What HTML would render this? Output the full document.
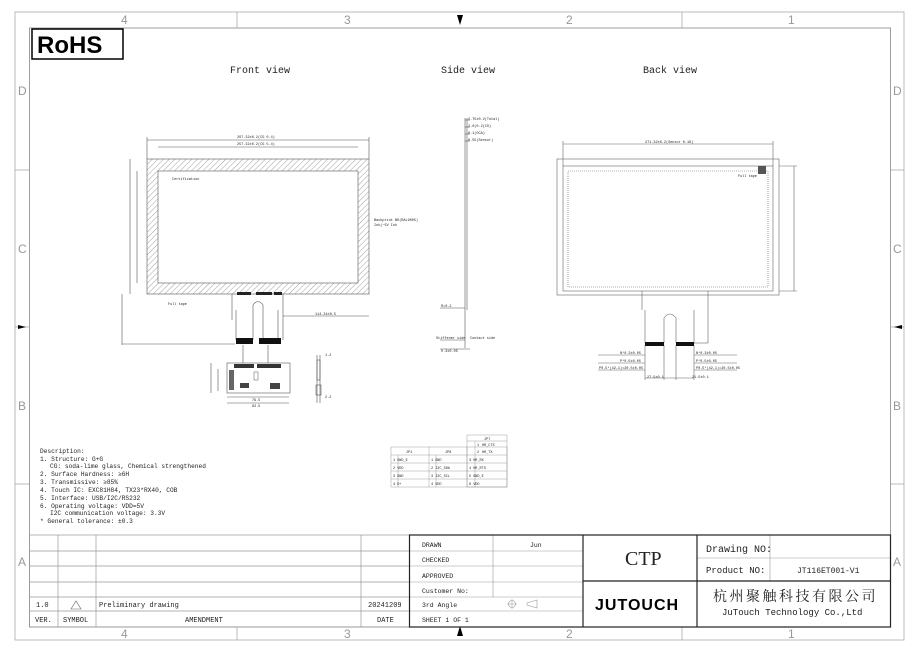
<!DOCTYPE html>
<html><head><meta charset="utf-8"><style>
html,body{margin:0;padding:0;background:#fff}
svg{display:block}
text{font-family:"Liberation Mono","Noto Sans CJK SC",monospace;fill:#222}
text.g{fill:#999;font-family:"Liberation Sans",sans-serif}
</style></head><body>
<svg width="920" height="650" viewBox="0 0 920 650" xmlns="http://www.w3.org/2000/svg">
<defs>
<pattern id="h" width="4" height="4" patternUnits="userSpaceOnUse" patternTransform="rotate(45)">
<line x1="0" y1="0" x2="0" y2="4" stroke="#888" stroke-width="0.8"/></pattern>
</defs>
<g fill="none" stroke="#aaa" stroke-width="0.8">
<rect x="15" y="12" width="889" height="628"/>
<rect x="29.5" y="28" width="861" height="599" stroke="#888"/>
<line x1="237" y1="12" x2="237" y2="28"/><line x1="682" y1="12" x2="682" y2="28"/>
<line x1="237" y1="627" x2="237" y2="640"/><line x1="682" y1="627" x2="682" y2="640"/>
<line x1="15" y1="170" x2="29" y2="170"/><line x1="15" y1="327" x2="29" y2="327"/><line x1="15" y1="484" x2="29" y2="484"/>
<line x1="891" y1="170" x2="904" y2="170"/><line x1="891" y1="327" x2="904" y2="327"/><line x1="891" y1="484" x2="904" y2="484"/>
</g>
<g font-size="12">
<text class="g" x="121" y="24">4</text><text class="g" x="344" y="24">3</text><text class="g" x="566" y="24">2</text><text class="g" x="788" y="24">1</text>
<text class="g" x="121" y="638">4</text><text class="g" x="344" y="638">3</text><text class="g" x="566" y="638">2</text><text class="g" x="788" y="638">1</text>
<text class="g" x="18" y="95">D</text><text class="g" x="18" y="253">C</text><text class="g" x="18" y="410">B</text><text class="g" x="18" y="566">A</text>
<text class="g" x="893" y="95">D</text><text class="g" x="893" y="253">C</text><text class="g" x="893" y="410">B</text><text class="g" x="893" y="566">A</text>
</g>
<polygon points="457,15 463,15 460,25" fill="#000"/>
<polygon points="457,636 463,636 460,626" fill="#000"/>
<polygon points="18,325 26,327 18,329" fill="#000"/>
<polygon points="902,325 894,327 902,329" fill="#000"/>
<!-- RoHS -->
<rect x="32" y="29" width="91" height="30" fill="#fff" stroke="#000" stroke-width="1.5"/>
<text x="37" y="53" font-size="24" font-weight="bold" style="font-family:'Liberation Sans',sans-serif;fill:#000">RoHS</text>
<text x="230" y="73" font-size="10">Front view</text>
<text x="441" y="73" font-size="10">Side view</text>
<text x="643" y="73" font-size="10">Back view</text>
<!-- front view -->
<g fill="none" stroke="#555" stroke-width="0.6">
<rect x="147" y="159" width="222" height="135" fill="url(#h)"/>
<rect x="158" y="171" width="200" height="112" fill="#fff"/>
<line x1="147" y1="140" x2="369" y2="140"/><line x1="158" y1="147" x2="358" y2="147"/>
<line x1="147" y1="137" x2="147" y2="159"/><line x1="369" y1="137" x2="369" y2="159"/>
<line x1="130" y1="159" x2="130" y2="294"/><line x1="137" y1="171" x2="137" y2="283"/>
<line x1="122" y1="294" x2="122" y2="345"/>
<path d="M232 294 V320 M283 294 V340 M236 310 V340 M278 310 V340 M253 340 V305 Q258 298 263 305 V340"/>
<line x1="283" y1="316" x2="369" y2="316"/>
<line x1="122" y1="344" x2="235" y2="344"/>
</g>
<rect x="236" y="338" width="17" height="6" fill="#111"/><rect x="259" y="338" width="22" height="6" fill="#111"/>
<rect x="237" y="292" width="14" height="3" fill="#222"/><rect x="256" y="292" width="16" height="3" fill="#222"/><rect x="274" y="292" width="8" height="3" fill="#222"/>
<g font-size="3.5"><text x="237" y="138">297.32±0.2(CG 0.4)</text><text x="237" y="145">257.32±0.2(CG 5.4)</text>
<text x="315" y="315">114.34±0.5</text><text x="172" y="180">Certification</text><text x="374" y="221">Backprint BK(RAL9005)</text><text x="374" y="226">Ink(~5V Ink</text><text x="168" y="305">Full tape</text></g>
<!-- PCB -->
<g fill="none" stroke="#555" stroke-width="0.6">
<line x1="243" y1="345" x2="243" y2="365"/><line x1="268" y1="345" x2="268" y2="365"/>
<rect x="227" y="363" width="63" height="30" fill="#fff"/>
<line x1="211" y1="363" x2="211" y2="393"/><line x1="218" y1="369" x2="218" y2="391"/>
<line x1="227" y1="397" x2="289" y2="397"/><line x1="227" y1="403" x2="289" y2="403"/>
<line x1="317" y1="355" x2="317" y2="403"/><line x1="320" y1="355" x2="320" y2="403"/>
<rect x="317" y="360" width="3" height="20"/><rect x="316" y="385" width="5" height="10"/>
</g>
<rect x="234" y="364" width="20" height="4" fill="#333"/><rect x="257" y="364" width="24" height="4" fill="#333"/>
<rect x="229" y="370" width="5" height="20" fill="#666"/><rect x="240" y="383" width="9" height="5" fill="#444"/><rect x="270" y="383" width="10" height="6" fill="#444"/>
<rect x="254" y="372" width="4" height="8" fill="none" stroke="#555" stroke-width="0.5"/>
<g font-size="3.5"><text x="252" y="401">79.5</text><text x="252" y="407">82.5</text><text x="325" y="356">1.2</text><text x="325" y="398">2.2</text></g>
<!-- side view -->
<g stroke="#555" stroke-width="0.6" fill="none">
<line x1="465" y1="118" x2="465" y2="348"/><line x1="467" y1="118" x2="467" y2="310"/>
<line x1="465" y1="120" x2="470" y2="120"/><line x1="465" y1="127" x2="470" y2="127"/><line x1="465" y1="134" x2="470" y2="134"/><line x1="465" y1="141" x2="470" y2="141"/>
<line x1="440" y1="308" x2="465" y2="308"/><line x1="440" y1="340" x2="465" y2="340"/><line x1="440" y1="349" x2="470" y2="349"/>
</g>
<g font-size="3.5"><text x="468" y="120">2.75±0.2(Total)</text><text x="468" y="127">2.0(0.2(CG)</text><text x="468" y="134">0.1(OCA)</text><text x="468" y="141">0.55(Sensor)</text>
<text x="441" y="307">R=0.2</text><text x="436" y="339">Stiffener side</text><text x="470" y="339">Contact side</text><text x="441" y="352">0.3±0.05</text></g>
<!-- back view -->
<g fill="none" stroke="#666" stroke-width="0.6">
<rect x="557" y="159" width="222" height="136"/>
<rect x="563" y="166" width="210" height="125"/>
<rect x="568" y="171" width="200" height="116" stroke-dasharray="1,1"/>
<line x1="563" y1="144" x2="773" y2="144"/><line x1="563" y1="141" x2="563" y2="166"/><line x1="773" y1="141" x2="773" y2="166"/>
<line x1="779" y1="166" x2="797" y2="166"/><line x1="779" y1="291" x2="797" y2="291"/><line x1="794" y1="166" x2="794" y2="291"/>
<path d="M642 291 V310 M708 291 V343 M645 310 V343 M694 310 V343 M664 343 V318 Q670 310 676 318 V343"/>
<line x1="694" y1="343" x2="708" y2="343"/>
<line x1="645" y1="345" x2="645" y2="380"/><line x1="694" y1="345" x2="694" y2="380"/><line x1="664" y1="345" x2="664" y2="380"/><line x1="676" y1="345" x2="676" y2="380"/>
<line x1="598" y1="355" x2="645" y2="355"/><line x1="598" y1="363" x2="645" y2="363"/><line x1="598" y1="370" x2="645" y2="370"/>
<line x1="694" y1="355" x2="737" y2="355"/><line x1="694" y1="363" x2="737" y2="363"/><line x1="694" y1="370" x2="737" y2="370"/>
<line x1="645" y1="378" x2="694" y2="378"/>
</g>
<rect x="645" y="342" width="19" height="4" fill="#111"/><rect x="676" y="342" width="18" height="4" fill="#111"/>
<rect x="758" y="166" width="8" height="8" fill="#555"/>
<g font-size="3.5"><text x="645" y="143">271.32±0.2(Sensor 0.16)</text><text x="738" y="177">Full tape</text>
<text x="620" y="354">N*0.3±0.05</text><text x="620" y="362">P*0.5±0.05</text><text x="599" y="369">P0.5*(42-1)=20.5±0.05</text>
<text x="696" y="354">N*0.3±0.05</text><text x="696" y="362">P*0.5±0.05</text><text x="696" y="369">P0.5*(42-1)=20.5±0.05</text>
<text x="647" y="378">27.5±0.1</text><text x="692" y="378">21.5±0.1</text></g>
<!-- pin table -->
<g fill="none" stroke="#888" stroke-width="0.4">
<rect x="467" y="435" width="40" height="52"/>
<rect x="391" y="447" width="116" height="40"/>
<line x1="391" y1="455" x2="507" y2="455"/><line x1="391" y1="463" x2="507" y2="463"/><line x1="391" y1="471" x2="507" y2="471"/><line x1="391" y1="479" x2="507" y2="479"/>
<line x1="467" y1="441" x2="507" y2="441"/>
<line x1="429" y1="447" x2="429" y2="487"/><line x1="467" y1="447" x2="467" y2="487"/>
<line x1="398" y1="455" x2="398" y2="487"/><line x1="436" y1="455" x2="436" y2="487"/><line x1="475" y1="441" x2="475" y2="487"/>
</g>
<g font-size="3.5"><text x="484" y="440">JP7</text><text x="406" y="453">JP1</text><text x="445" y="453">JP8</text>
<text x="477" y="446">1</text><text x="482" y="446">HR_CTS</text><text x="477" y="453">2</text><text x="482" y="453">HR_TX</text>
<text x="393" y="461">1 GND_E</text><text x="431" y="461">1  GND</text><text x="469" y="461">3  HR_RX</text>
<text x="393" y="469">2  VDD</text><text x="431" y="469">2 I2C_SDA</text><text x="469" y="469">4  HR_RTS</text>
<text x="393" y="477">3  GND</text><text x="431" y="477">3 I2C_SCL</text><text x="469" y="477">5  GND_E</text>
<text x="393" y="485">4  D+</text><text x="431" y="485">4  VDD</text><text x="469" y="485">6  VDD</text></g>
<!-- description -->
<g font-size="6.2">
<text x="40" y="453">Description:</text>
<text x="40" y="461">1. Structure: G+G</text>
<text x="50" y="468">CG: soda-lime glass, Chemical strengthened</text>
<text x="40" y="476">2. Surface Hardness: ≥6H</text>
<text x="40" y="484">3. Transmissive: ≥85%</text>
<text x="40" y="492">4. Touch IC: EXC81H84, TX23*RX40, COB</text>
<text x="40" y="500">5. Interface: USB/I2C/RS232</text>
<text x="40" y="508">6. Operating voltage: VDD=5V</text>
<text x="50" y="515">I2C communication voltage: 3.3V</text>
<text x="40" y="523">* General tolerance: ±0.3</text>
</g>
<!-- revision table -->
<g fill="none" stroke="#999" stroke-width="0.7">
<rect x="29.5" y="535" width="380" height="92"/>
<line x1="29.5" y1="551" x2="409" y2="551"/><line x1="29.5" y1="566" x2="409" y2="566"/><line x1="29.5" y1="582" x2="409" y2="582"/><line x1="29.5" y1="597" x2="409" y2="597"/><line x1="29.5" y1="611" x2="409" y2="611"/>
<line x1="58" y1="535" x2="58" y2="627"/><line x1="96" y1="535" x2="96" y2="627"/><line x1="361" y1="535" x2="361" y2="627"/>
</g>
<g font-size="7"><text x="36" y="607">1.0</text><text x="99" y="607">Preliminary drawing</text><text x="368" y="607">20241209</text>
<text x="35" y="622">VER.</text><text x="63" y="622">SYMBOL</text><text x="185" y="622">AMENDMENT</text><text x="377" y="622">DATE</text></g>
<polygon points="76,601 71,609 81,609" fill="none" stroke="#666" stroke-width="0.6"/>
<!-- title block -->
<g fill="none" stroke="#999" stroke-width="0.6">
<line x1="409" y1="551" x2="583" y2="551"/><line x1="409" y1="566" x2="583" y2="566"/><line x1="409" y1="582" x2="583" y2="582"/><line x1="409" y1="597" x2="583" y2="597"/><line x1="409" y1="611" x2="583" y2="611"/>
<line x1="493" y1="535" x2="493" y2="597"/><line x1="770" y1="535" x2="770" y2="581"/><line x1="697" y1="558" x2="891" y2="558"/>
</g>
<g fill="none" stroke="#222" stroke-width="1.2">
<rect x="409.5" y="535" width="481" height="92"/>
<line x1="583" y1="535" x2="583" y2="627"/><line x1="697" y1="535" x2="697" y2="627"/><line x1="583" y1="581" x2="891" y2="581"/>
</g>
<g font-size="6.5"><text x="422" y="547">DRAWN</text><text x="530" y="547">Jun</text><text x="422" y="562">CHECKED</text><text x="422" y="578">APPROVED</text><text x="422" y="593">Customer No:</text><text x="422" y="607">3rd Angle</text><text x="422" y="622">SHEET  1  OF 1</text></g>
<circle cx="512" cy="604" r="3.5" fill="none" stroke="#999" stroke-width="0.6"/><path d="M507 604h10M512 599v10" stroke="#999" stroke-width="0.5"/>
<path d="M527 603 l10 -3 v8 l-10 -3z" fill="none" stroke="#999" stroke-width="0.6"/>
<text x="625" y="565" font-size="20" style="font-family:'Liberation Serif',serif">CTP</text>
<text x="706" y="552" font-size="10">Drawing NO:</text>
<text x="706" y="573" font-size="9">Product NO:</text>
<text x="797" y="573" font-size="8">JT116ET001-V1</text>
<text x="595" y="610" font-size="16" font-weight="bold" style="font-family:'Liberation Sans',sans-serif;letter-spacing:1px;fill:#000">JUTOUCH</text>
<text x="713" y="601" font-size="14" style="font-family:'Noto Serif CJK SC','Noto Sans CJK SC',serif;letter-spacing:2.5px">杭州聚触科技有限公司</text>
<text x="722" y="615" font-size="9" style="font-family:'Liberation Mono',monospace">JuTouch Technology Co.,Ltd</text>
</svg>
</body></html>
